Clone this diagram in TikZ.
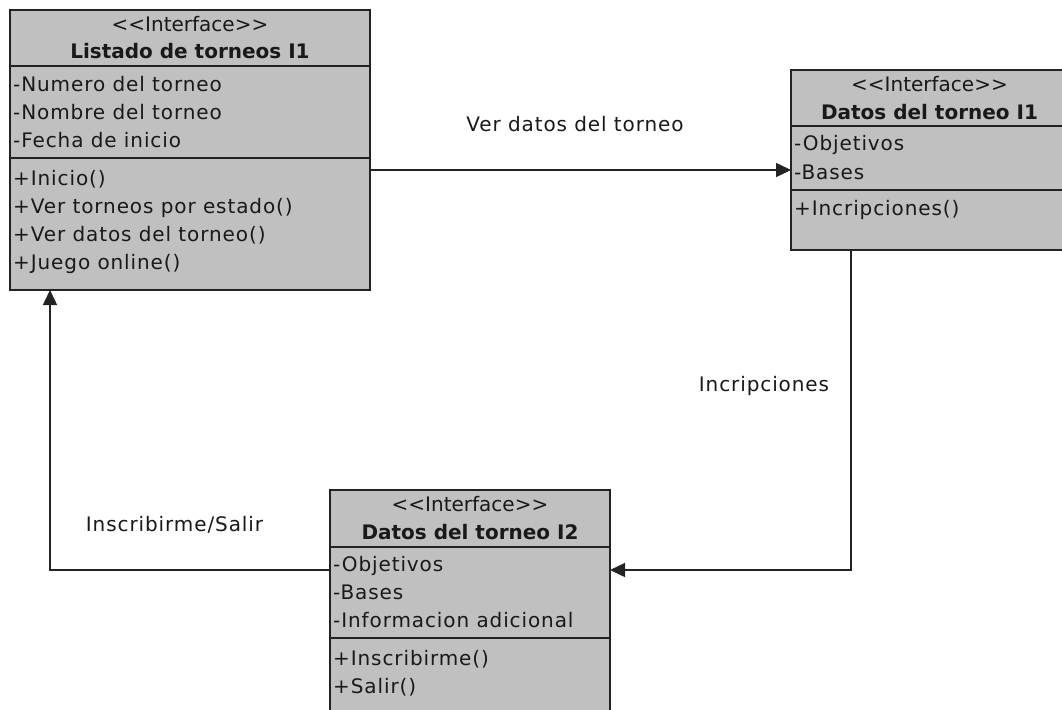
\documentclass[tikz,border=0pt]{standalone}
\usepackage{fontspec}
\setmainfont{DejaVu Sans}
\newfontfamily\widefont[LetterSpace=4.5]{DejaVu Sans}
\usetikzlibrary{arrows.meta}
\definecolor{boxfill}{RGB}{192,192,192}
\definecolor{edge}{RGB}{35,35,35}
\definecolor{ink}{RGB}{25,25,25}
\begin{document}
\begin{tikzpicture}[x=1pt,y=-1pt,
  umlbox/.style={draw=edge, line width=1.5pt, fill=boxfill, rectangle, inner sep=0pt, outer sep=0pt, anchor=north west},
  txt/.style={inner sep=0pt, text=ink, font=\fontsize{20}{24}\selectfont},
  member/.style={txt, anchor=base west, font=\fontsize{20}{24}\widefont},
  stereo/.style={txt, anchor=base},
  classname/.style={txt, anchor=base, font=\fontsize{20}{24}\selectfont\bfseries},
  divider/.style={draw=edge, line width=1.5pt},
  conn/.style={draw=edge, line width=1.5pt, -{Triangle[length=15pt,width=14pt]}},
  lbl/.style={txt, anchor=base, font=\fontsize{20}{24}\widefont}]
\clip (0,0) rectangle (1062,709);
\fill[white] (0,0) rectangle (1062,709);

% --- Listado de torneos I1 ---
\node[umlbox, minimum width=360pt, minimum height=280pt] (b1) at (10,10) {};
\draw[divider] (b1.west |- 0,66) -- (b1.east |- 0,66);
\draw[divider] (b1.west |- 0,158) -- (b1.east |- 0,158);
\node[stereo] (b1s) at (190,31.7) {{<}{<}Interface{>}{>}};
\node[classname] (b1n) at (190,59) {Listado de torneos I1};
\node[member] (b1a1) at (13,92) {-Numero del torneo};
\node[member] (b1a2) at (13,119.5) {-Nombre del torneo};
\node[member] (b1a3) at (13,147) {-Fecha de inicio};
\node[member] (b1m1) at (13,185) {+Inicio()};
\node[member] (b1m2) at (13,213) {+Ver torneos por estado()};
\node[member] (b1m3) at (13,241) {+Ver datos del torneo()};
\node[member] (b1m4) at (13,269) {+Juego online()};

% --- Datos del torneo I1 ---
\node[umlbox, minimum width=277pt, minimum height=180pt] (b2) at (791,70) {};
\draw[divider] (b2.west |- 0,126) -- (b2.east |- 0,126);
\draw[divider] (b2.west |- 0,190) -- (b2.east |- 0,190);
\node[stereo] (b2s) at (929.5,91.7) {{<}{<}Interface{>}{>}};
\node[classname] (b2n) at (929.5,119) {Datos del torneo I1};
\node[member] (b2a1) at (794,150.7) {-Objetivos};
\node[member] (b2a2) at (794,179) {-Bases};
\node[member] (b2m1) at (794,215) {+Incripciones()};

% --- Datos del torneo I2 ---
\node[umlbox, minimum width=280pt, minimum height=230pt] (b3) at (330,490) {};
\draw[divider] (b3.west |- 0,547) -- (b3.east |- 0,547);
\draw[divider] (b3.west |- 0,638) -- (b3.east |- 0,638);
\node[stereo] (b3s) at (470,511.7) {{<}{<}Interface{>}{>}};
\node[classname] (b3n) at (470,539) {Datos del torneo I2};
\node[member] (b3a1) at (333,571.7) {-Objetivos};
\node[member] (b3a2) at (333,599) {-Bases};
\node[member] (b3a3) at (333,627.7) {-Informacion adicional};
\node[member] (b3m1) at (333,665) {+Inscribirme()};
\node[member] (b3m2) at (333,693) {+Salir()};

% --- connectors ---
\draw[conn] ([yshift=-20pt]b1.east) -- ([yshift=-10pt]b2.west);
\draw[conn] ([xshift=-78.5pt]b2.south) |- ([yshift=35pt]b3.east);
\draw[conn] ([yshift=35pt]b3.west) -| ([xshift=-140pt]b1.south);

% --- connector labels ---
\node[lbl] (l1) at (575,131.7) {Ver datos del torneo};
\node[lbl] (l2) at (764,391.7) {Incripciones};
\node[lbl] (l3) at (174.5,531.7) {Inscribirme/Salir};
\end{tikzpicture}
\end{document}
